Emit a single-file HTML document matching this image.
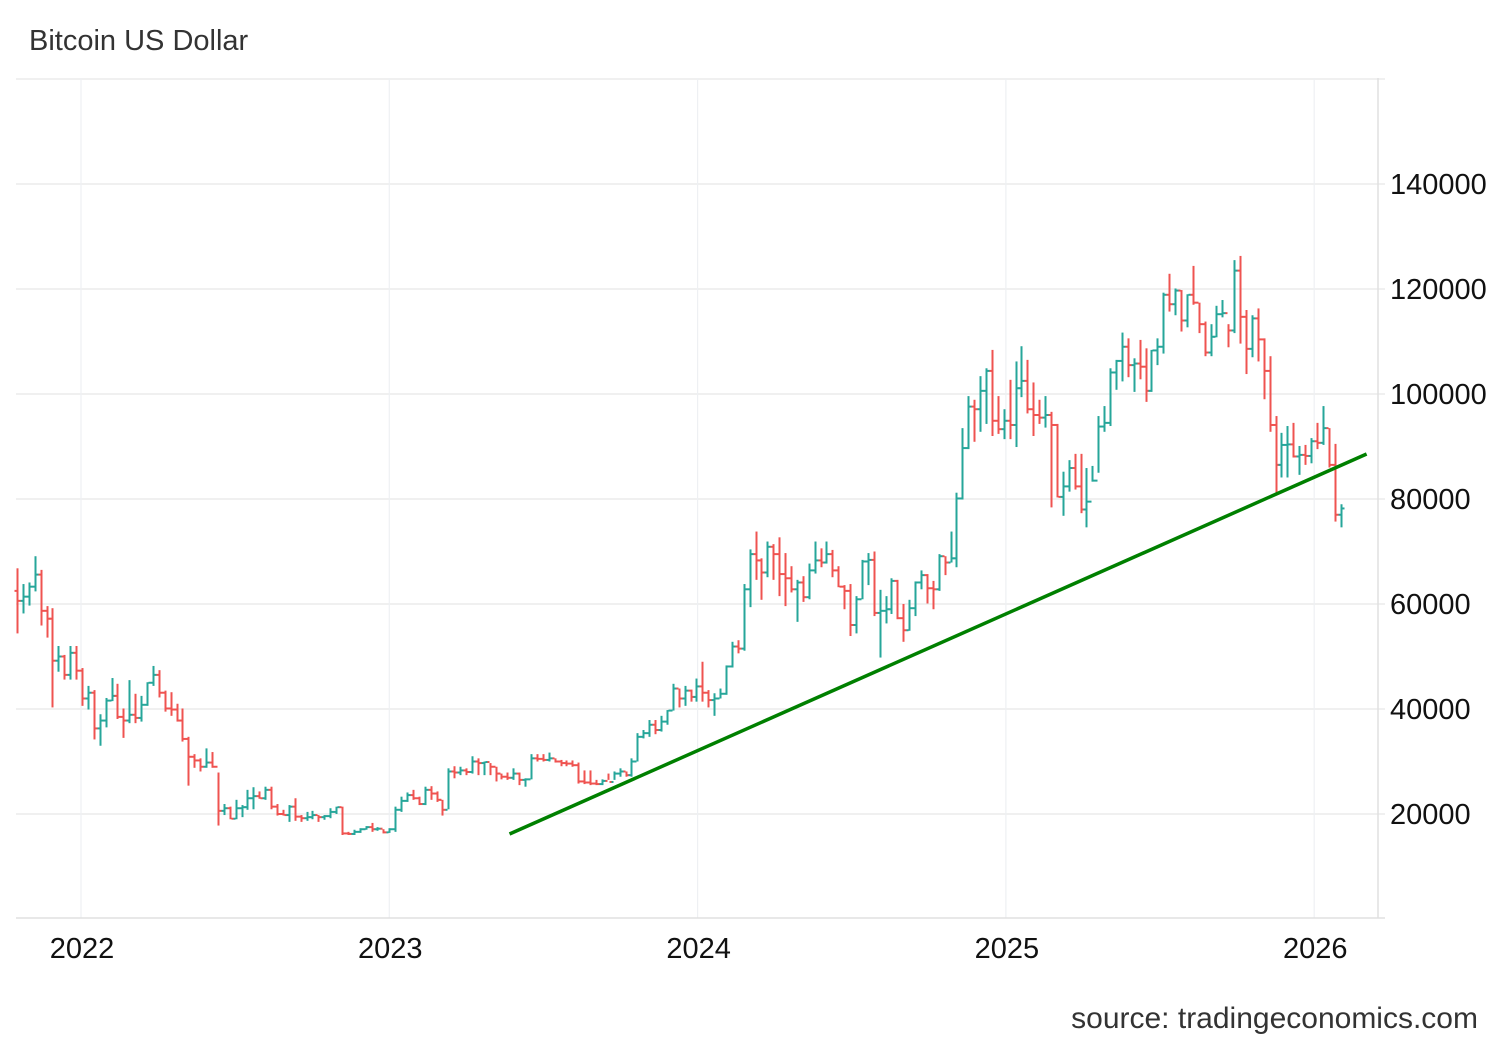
<!DOCTYPE html>
<html><head><meta charset="utf-8"><style>
body{margin:0;background:#fff;}
svg{display:block;font-family:"Liberation Sans",sans-serif;}
</style></head><body>
<svg id="chart" width="1500" height="1040" xmlns="http://www.w3.org/2000/svg">
<text x="29" y="50" font-size="29" fill="#333">Bitcoin US Dollar</text>
<g id="grid"></g>
<g id="bars"></g>
<g id="trend"></g>
<g id="axes"></g>
<text x="1478" y="1028" font-size="30" fill="#333" text-anchor="end">source: tradingeconomics.com</text>
</svg>
<script>
const yTicks=[20000,40000,60000,80000,100000,120000,140000];
const yearLabels=["2022","2023","2024","2025","2026"];
const startT=2021.7924;
const opens=[62.5,60.6,61.4,63.3,65.6,58.7,57.2,49.2,50.0,46.5,50.7,47.3,42.0,43.1,36.3,37.8,41.6,42.5,38.5,37.8,38.9,38.3,40.8,45.0,46.5,43.1,40.1,39.9,37.8,34.3,30.9,30.2,29.0,29.8,29.0,20.6,21.1,19.1,21.1,21.3,23.0,23.4,23.0,24.6,21.4,20.0,19.8,21.4,19.5,19.2,19.4,19.8,19.4,19.6,20.4,21.3,16.3,16.2,16.6,17.1,17.5,17.1,17.2,16.5,17.1,20.8,22.5,23.6,23.0,21.9,24.6,23.9,22.7,20.8,28.1,27.9,28.3,28.0,30.0,29.7,29.9,29.0,27.7,27.1,26.9,27.7,26.5,26.6,30.6,30.5,30.3,30.6,30.0,29.7,29.6,29.3,26.2,26.0,25.8,25.7,26.3,26.1,27.7,28.1,27.4,30.0,34.7,35.4,37.0,36.0,37.6,39.7,43.9,42.0,43.5,42.3,44.3,43.1,41.7,42.0,42.9,48.1,51.9,51.5,62.8,69.5,68.3,66.0,70.9,69.5,65.7,64.9,62.8,64.1,61.3,66.4,68.3,67.9,69.5,66.4,63.3,62.5,56.0,60.9,68.1,68.4,58.3,58.7,59.0,64.4,57.3,55.0,59.2,64.1,65.5,63.0,62.8,69.1,67.9,68.7,80.1,89.7,97.6,97.1,100.6,104.4,94.9,93.3,94.9,94.1,101.1,102.5,97.1,96.0,95.5,96.0,94.1,80.4,82.4,85.9,82.4,78.0,79.5,83.5,93.8,94.5,104.1,106.3,109.0,105.5,105.8,105.2,100.6,108.3,109.0,118.9,117.1,119.7,114.0,118.9,117.4,113.3,107.9,110.9,115.2,115.4,112.1,123.5,114.7,108.6,114.4,110.4,104.4,94.1,86.5,90.3,90.4,88.1,88.4,88.2,91.0,90.7,93.5,86.5,77.0];
const closes=[60.6,61.4,63.3,65.6,58.7,57.2,49.2,50.0,46.5,50.7,47.3,42.0,43.1,36.3,37.8,41.6,42.5,38.5,37.8,38.9,38.3,40.8,45.0,46.5,43.1,40.1,39.9,37.8,34.3,30.9,30.2,29.0,29.8,29.0,20.6,21.1,19.1,21.1,21.3,23.0,23.4,23.0,24.6,21.4,20.0,19.8,21.4,19.5,19.2,19.4,19.8,19.4,19.6,20.4,21.3,16.3,16.2,16.6,17.1,17.5,17.1,17.2,16.5,17.1,20.8,22.5,23.6,23.0,21.9,24.6,23.9,22.7,20.8,28.1,27.9,28.3,28.0,30.0,29.7,29.9,29.0,27.7,27.1,26.9,27.7,26.5,26.6,30.6,30.5,30.3,30.6,30.0,29.7,29.6,29.3,26.2,26.0,25.8,25.7,26.3,26.1,27.7,28.1,27.4,30.0,34.7,35.4,37.0,36.0,37.6,39.7,43.9,42.0,43.5,42.3,44.3,43.1,41.7,42.0,42.9,48.1,51.9,51.5,62.8,69.5,68.3,66.0,70.9,69.5,65.7,64.9,62.8,64.1,61.3,66.4,68.3,67.9,69.5,66.4,63.3,62.5,56.0,60.9,68.1,68.4,58.3,58.7,59.0,64.4,57.3,55.0,59.2,64.1,65.5,63.0,62.8,69.1,67.9,68.7,80.1,89.7,97.6,97.1,100.6,104.4,94.9,93.3,94.9,94.1,101.1,102.5,97.1,96.0,95.5,96.0,94.1,80.4,82.4,85.9,82.4,78.0,79.5,83.5,93.8,94.5,104.1,106.3,109.0,105.5,105.8,105.2,100.6,108.3,109.0,118.9,117.1,119.7,114.0,118.9,117.4,113.3,107.9,110.9,115.2,115.4,112.1,123.5,114.7,108.6,114.4,110.4,104.4,94.1,86.5,90.3,90.4,88.1,88.4,88.2,91.0,90.7,93.5,86.5,77.0,78.2];
const highs=[66.8,63.8,64.1,69.1,66.5,59.6,59.2,52.0,50.3,52.0,52.0,47.8,44.4,43.6,39.0,42.1,45.9,44.8,40.1,45.5,42.9,42.5,45.1,48.2,47.4,43.5,43.2,41.0,40.1,34.7,31.4,30.6,32.5,31.8,27.9,21.9,21.4,22.7,21.7,24.6,25.1,24.3,25.2,25.2,21.9,20.8,21.7,23.0,19.8,20.4,20.6,19.8,19.8,21.1,21.4,21.4,16.6,17.0,17.3,17.7,18.3,17.5,17.1,17.3,21.4,23.3,24.1,24.6,23.3,25.2,25.3,24.3,22.7,28.7,29.1,29.0,28.7,31.0,30.6,30.0,29.7,29.0,27.7,27.9,28.7,27.9,26.8,31.4,31.4,31.4,31.7,30.6,30.3,30.2,30.2,29.8,28.3,28.3,26.5,26.6,27.7,28.1,28.7,28.1,30.6,35.4,36.0,37.9,37.9,38.7,39.8,44.8,43.9,44.4,43.7,45.8,49.0,43.6,43.0,43.9,48.3,52.8,53.1,63.8,70.4,73.8,68.7,71.9,71.4,72.7,69.7,67.2,64.6,65.3,67.7,71.9,70.6,71.9,70.3,67.2,63.6,63.8,61.5,68.4,69.7,70.0,62.7,61.5,64.9,64.6,60.0,60.8,64.3,66.4,65.7,64.4,69.5,69.1,73.8,81.2,93.5,99.6,98.9,103.4,104.9,108.4,99.6,97.1,102.7,106.2,109.1,106.5,102.2,98.9,99.6,96.6,94.3,85.2,87.4,88.6,88.6,85.9,86.3,95.8,97.7,104.9,106.5,111.7,110.6,106.8,110.3,108.7,108.4,110.6,119.3,122.9,120.1,119.8,119.0,124.4,117.4,113.8,113.3,116.8,117.9,113.3,125.5,126.3,116.0,115.0,116.3,110.6,107.2,95.8,92.6,93.9,94.5,90.1,90.3,91.6,94.5,97.7,93.5,90.5,79.0];
const lows=[54.4,58.2,59.7,62.4,55.9,53.6,40.3,47.1,45.6,45.6,45.6,40.6,39.9,34.2,33.0,36.5,41.5,38.1,34.5,37.3,37.3,37.6,40.6,44.4,42.2,39.5,38.7,37.6,33.8,25.4,28.8,28.1,28.8,28.8,17.8,19.8,19.0,19.0,19.4,20.8,20.9,22.9,22.7,20.9,19.7,19.7,18.5,18.7,18.5,18.7,19.0,18.5,18.9,19.2,20.0,16.0,16.0,16.0,16.4,17.0,16.6,16.8,16.3,16.4,16.6,20.4,22.3,22.7,21.7,21.7,22.7,22.3,19.7,20.9,26.8,27.4,27.4,27.7,27.4,27.4,27.4,26.2,26.6,26.5,26.5,25.5,25.2,26.6,30.0,30.0,30.0,29.8,29.1,29.1,29.0,25.8,25.7,25.5,25.5,25.5,26.5,26.5,27.1,27.1,27.1,30.0,34.4,34.7,35.2,35.7,37.0,39.7,40.3,40.6,41.4,41.4,41.4,40.3,38.7,42.0,42.7,47.9,50.6,51.1,59.4,64.6,60.8,65.1,64.6,61.5,59.6,62.2,56.6,60.4,60.9,65.8,67.0,67.7,65.1,63.2,59.0,53.9,54.4,60.9,63.6,57.7,49.8,56.3,58.1,57.1,52.8,54.9,57.7,62.8,60.1,59.0,62.5,65.5,67.9,67.0,79.9,89.5,90.9,92.8,94.3,92.0,92.4,91.4,91.4,89.9,99.4,96.3,92.0,94.3,93.6,78.4,80.3,76.8,81.4,81.8,77.3,74.6,83.3,85.0,92.8,93.9,100.8,102.4,103.2,100.4,102.8,98.5,100.4,105.5,107.7,115.7,115.0,111.9,112.7,117.0,111.6,107.2,107.2,110.8,114.6,108.9,111.6,109.6,103.8,107.0,106.2,99.0,92.8,81.2,84.1,84.1,87.9,84.6,86.5,86.8,89.5,90.3,86.0,75.7,74.6];
const trendDates=[2023.39,2026.17];
const trendValues=[16190,88570];

const NS="http://www.w3.org/2000/svg";
const L=16,R=1385,T=78,B=918;
const xT=t=>81+(t-2022)*308.3;
const yV=v=>814-(v-20000)*0.00525;
const weekT=i=>startT+i*7/365.25;
function mk(tag,attrs,parent){const e=document.createElementNS(NS,tag);for(const k in attrs)e.setAttribute(k,attrs[k]);parent.appendChild(e);return e;}
const grid=document.getElementById('grid'),axes=document.getElementById('axes'),bars=document.getElementById('bars'),trend=document.getElementById('trend');
[160000].concat(yTicks).forEach(v=>{const l=mk('line',{x1:L,x2:R,y1:yV(v),y2:yV(v),stroke:'#e6e6e6','stroke-width':1.2},grid);

});
yearLabels.forEach(y=>{const x=xT(+y);const l=mk('line',{x1:x,x2:x,y1:T,y2:B,stroke:'#eef0f3','stroke-width':1.2},grid);


const t=mk('text',{x:x+1,y:958,'font-size':29,'text-anchor':'middle',fill:'#111'},axes);t.textContent=y;

});
const bl=mk('line',{x1:L,x2:R,y1:B,y2:B,stroke:'#e0e0e0','stroke-width':1.5},axes);


const rl=mk('line',{x1:1378,x2:1378,y1:T,y2:B,stroke:'#e0e0e0','stroke-width':1.5},axes);


yTicks.forEach(v=>{const t=mk('text',{x:1390,y:yV(v)+10,'font-size':29,fill:'#111'},axes);t.textContent=v;

});
closes.forEach((c,i)=>{
 const x=Math.round(xT(weekT(i)))+0.5;const o=opens[i];const col=c>=o?'#26a69a':'#ef5350';
 const g=mk('g',{stroke:col,'stroke-width':2},bars);
 
 
 mk('line',{x1:x,x2:x,y1:yV(highs[i]*1000),y2:yV(lows[i]*1000)},g);
 mk('line',{x1:x-3,x2:x-1,y1:yV(o*1000),y2:yV(o*1000)},g);
 mk('line',{x1:x+1,x2:x+3,y1:yV(c*1000),y2:yV(c*1000)},g);
});
const tl=mk('line',{x1:xT(trendDates[0]),y1:yV(trendValues[0]),x2:xT(trendDates[1]),y2:yV(trendValues[1]),stroke:'#008000','stroke-width':3.5},trend);


</script>
</body></html>
